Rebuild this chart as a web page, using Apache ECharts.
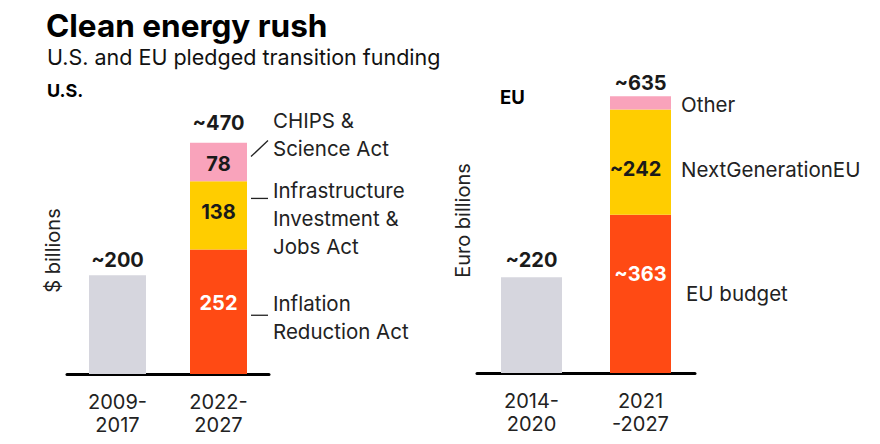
<!DOCTYPE html>
<html><head><meta charset="utf-8">
<script src="https://cdn.jsdelivr.net/npm/echarts@6/dist/echarts.min.js"></script>
<style>html,body{margin:0;padding:0;background:#fff}#c{width:880px;height:444px}</style>
</head><body><div id="c"></div>
<script>
// ---- data ----
const usCategories = ['2009-\n2017', '2022-\n2027'];
const usPrior = [200, '-'];
const usIRA = ['-', 252];
const usIIJA = ['-', 138];
const usCHIPS = ['-', 78];
const usTotalLabels = ['~200', '~470'];
const usSegmentNames = ['Inflation\nReduction Act', 'Infrastructure\nInvestment &\nJobs Act', 'CHIPS &\nScience Act'];

const euCategories = ['2014-\n2020', '2021\n-2027'];
const euPrior = [220, '-'];
const euBudget = ['-', 363];
const euNextGen = ['-', 242];
const euOther = ['-', 30];
const euTotalLabels = ['~220', '~635'];
const euValueLabels = ['~363', '~242'];
const euSegmentNames = ['EU budget', 'NextGenerationEU', 'Other'];

// ---- style ----
const FONT = 'Inter, "Noto Sans", sans-serif';
const C_GRAY = '#d6d6de', C_RED = '#ff4a14', C_YEL = '#ffcd00', C_PINK = '#f9a3bb', C_TXT = '#1a1a1a';
const numLbl = (extra) => Object.assign({show: true, fontFamily: FONT, fontSize: 20, fontWeight: 'bold', color: C_TXT}, extra);

const chart = echarts.init(document.getElementById('c'), null, {renderer: 'svg'});

const xAxisBase = (gi, cats) => ({
  type: 'category', gridIndex: gi, data: cats,
  axisLine: {show: true, lineStyle: {color: '#000', width: 3}},
  axisTick: {show: false},
  axisLabel: {fontFamily: FONT, fontSize: 20, lineHeight: 23, color: '#222', margin: 16}
});
const yAxisBase = (gi, max, name) => ({
  type: 'value', gridIndex: gi, min: 0, max: max,
  splitLine: {show: false}, axisLine: {show: false}, axisTick: {show: false}, axisLabel: {show: false},
  name: name, nameLocation: 'middle', nameRotate: 90, nameGap: 4,
  nameTextStyle: {fontFamily: FONT, fontSize: 20, color: '#222'}
});

const sumUS = usIRA[1] + usIIJA[1] + usCHIPS[1];
const sumEU = euBudget[1] + euNextGen[1] + euOther[1];

chart.setOption({
  animation: false,
  backgroundColor: '#fff',
  title: [
    {text: 'Clean energy rush', left: 46, top: 9, padding: 0, textStyle: {fontFamily: FONT, fontSize: 31.5, fontWeight: 'bold', color: '#000'}},
    {text: 'U.S. and EU pledged transition funding', left: 47, top: 46, padding: 0, textStyle: {fontFamily: FONT, fontSize: 21.5, fontWeight: 'normal', color: '#111'}},
    {text: 'U.S.', left: 47, top: 81, padding: 0, textStyle: {fontFamily: FONT, fontSize: 18, fontWeight: 'bold', color: '#000'}},
    {text: 'EU', left: 500, top: 87, padding: 0, textStyle: {fontFamily: FONT, fontSize: 18.5, fontWeight: 'bold', color: '#000'}}
  ],
  grid: [
    {left: 67, right: 611, top: 127, bottom: 70},
    {left: 477, right: 185, top: 68, bottom: 71}
  ],
  xAxis: [xAxisBase(0, usCategories), xAxisBase(1, euCategories)],
  yAxis: [yAxisBase(0, 500, '$ billions'), yAxisBase(1, 700, 'Euro billions')],
  series: [
    {type: 'bar', name: 'US prior', xAxisIndex: 0, yAxisIndex: 0, stack: 'us', barWidth: 57, data: usPrior,
     itemStyle: {color: C_GRAY}, label: numLbl({position: 'top', distance: 5, formatter: p => usTotalLabels[p.dataIndex]})},
    {type: 'bar', name: 'Inflation Reduction Act', xAxisIndex: 0, yAxisIndex: 0, stack: 'us', barWidth: 57, data: usIRA,
     itemStyle: {color: C_RED}, label: numLbl({position: 'inside', color: '#fff', offset: [0, -9]})},
    {type: 'bar', name: 'Infrastructure Investment & Jobs Act', xAxisIndex: 0, yAxisIndex: 0, stack: 'us', barWidth: 57, data: usIIJA,
     itemStyle: {color: C_YEL}, label: numLbl({position: 'inside', offset: [0, -3]})},
    {type: 'bar', name: 'CHIPS & Science Act', xAxisIndex: 0, yAxisIndex: 0, stack: 'us', barWidth: 57, data: usCHIPS,
     itemStyle: {color: C_PINK}, label: numLbl({position: 'inside', offset: [0, 2]})},
    {type: 'bar', name: 'US total', xAxisIndex: 0, yAxisIndex: 0, stack: 'us', barWidth: 57, data: ['-', 0],
     itemStyle: {color: 'transparent'}, label: numLbl({position: 'top', distance: 10, formatter: p => usTotalLabels[p.dataIndex]})},

    {type: 'bar', name: 'EU prior', xAxisIndex: 1, yAxisIndex: 1, stack: 'eu', barWidth: 61, data: euPrior,
     itemStyle: {color: C_GRAY}, label: numLbl({position: 'top', distance: 7, formatter: p => euTotalLabels[p.dataIndex]})},
    {type: 'bar', name: 'EU budget', xAxisIndex: 1, yAxisIndex: 1, stack: 'eu', barWidth: 61, data: euBudget,
     itemStyle: {color: C_RED}, label: numLbl({position: 'insideTop', distance: 49, color: '#fff', formatter: () => euValueLabels[0]})},
    {type: 'bar', name: 'NextGenerationEU', xAxisIndex: 1, yAxisIndex: 1, stack: 'eu', barWidth: 61, data: euNextGen,
     itemStyle: {color: C_YEL}, label: numLbl({position: 'inside', offset: [-5, 7], formatter: () => euValueLabels[1]})},
    {type: 'bar', name: 'Other', xAxisIndex: 1, yAxisIndex: 1, stack: 'eu', barWidth: 61, data: euOther,
     itemStyle: {color: C_PINK}, label: {show: false}},
    {type: 'bar', name: 'EU total', xAxisIndex: 1, yAxisIndex: 1, stack: 'eu', barWidth: 61, data: ['-', 0],
     itemStyle: {color: 'transparent'}, label: numLbl({position: 'top', distance: 3, formatter: p => euTotalLabels[p.dataIndex]})}
  ]
});

// ---- annotations placed from the library's own scale ----
const annFont = {fontFamily: FONT, fontSize: 20.5, fill: '#222', lineHeight: 28};
const px = (gi, cat, v) => chart.convertToPixel({gridIndex: gi}, [cat, v]);
const g = [];

// US segments
const usSegs = [[0, usIRA[1]], [usIRA[1], usIRA[1] + usIIJA[1]], [usIRA[1] + usIIJA[1], sumUS]];
const usRight = px(0, 1, 0)[0] + 57 / 2;
const usTextOff = [5.5, 3.5, -27.5];
usSegs.forEach((s, i) => {
  const mid = (px(0, 1, s[0])[1] + px(0, 1, s[1])[1]) / 2;
  g.push({type: 'text', position: [usRight + 26, mid + usTextOff[i]],
          style: Object.assign({text: usSegmentNames[i], x: 0, y: 0, verticalAlign: 'middle'}, annFont)});
  if (i < 2) {
    const ly = mid + (i === 0 ? 3.5 : -17);
    g.push({type: 'line', shape: {x1: usRight + 4, y1: ly, x2: usRight + 21, y2: ly}, style: {stroke: '#222', lineWidth: 1.3}});
  } else {
    g.push({type: 'line', shape: {x1: usRight + 4, y1: mid - 5.5, x2: usRight + 21, y2: mid - 21.5}, style: {stroke: '#222', lineWidth: 1.3}});
  }
});

// EU segments
const euSegs = [[0, euBudget[1]], [euBudget[1], euBudget[1] + euNextGen[1]], [euBudget[1] + euNextGen[1], sumEU]];
const euRight = px(1, 1, 0)[0] + 61 / 2;
const euTextOff = [[15, 0], [10, 7.5], [10, 2]];
euSegs.forEach((s, i) => {
  const mid = (px(1, 1, s[0])[1] + px(1, 1, s[1])[1]) / 2;
  g.push({type: 'text', position: [euRight + euTextOff[i][0], mid + euTextOff[i][1]],
          style: Object.assign({text: euSegmentNames[i], x: 0, y: 0, verticalAlign: 'middle'}, annFont, {fontSize: 20.5})});
});

chart.setOption({graphic: g});
</script>
</body></html>
